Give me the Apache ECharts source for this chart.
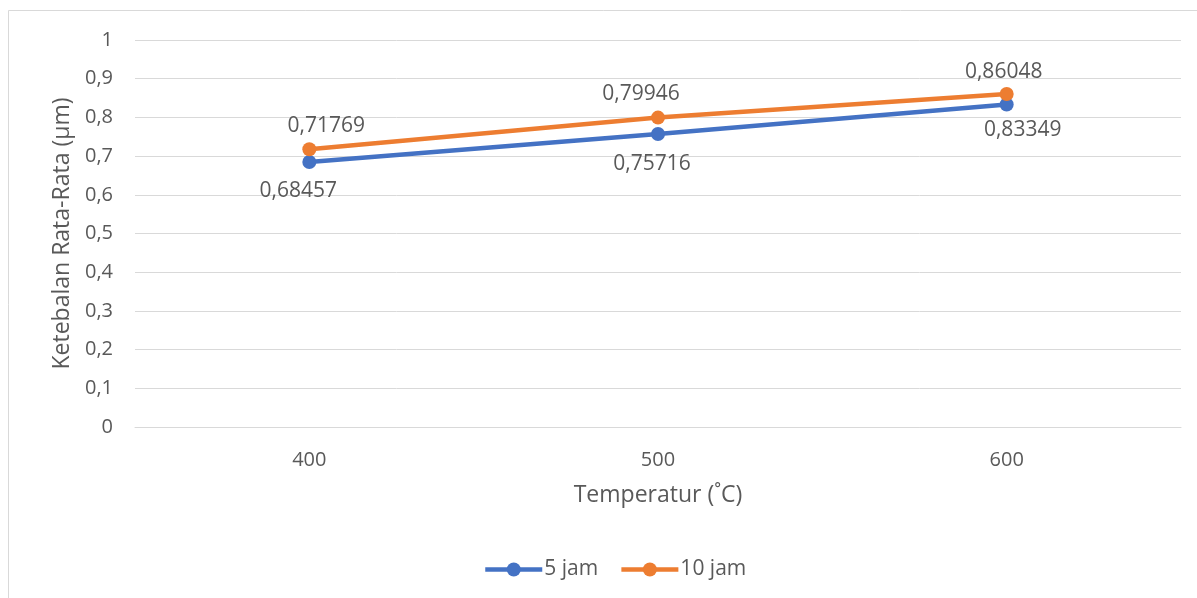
<!DOCTYPE html>
<html>
<head>
<meta charset="utf-8">
<title>Ketebalan Rata-Rata</title>
<script src="https://cdn.jsdelivr.net/npm/echarts@6/dist/echarts.min.js"></script>
<style>
  html, body { margin: 0; padding: 0; background: #fff; }
  #chart { width: 1197px; height: 598px; }
</style>
</head>
<body>
<div id="chart"></div>
<script>
// Temperature categories (°C) and yAxis ticks
const temperatures = ['400', '500', '600'];
const yTicks = [0, 0.1, 0.2, 0.3, 0.4, 0.5, 0.6, 0.7, 0.8, 0.9, 1];

// Average thickness (µm) per holding time
const jam5 = [0.68457, 0.75716, 0.83349];
const jam10 = [0.71769, 0.79946, 0.86048];

// Label offsets from each point's centre (px)
const offsets5 = [[-11, 29], [-6, 30], [16, 26]];
const offsets10 = [[17, -23], [-17, -24], [-3, -22]];

const FONT = '"Open Sans", "Noto Sans", sans-serif';
const TEXT = '#595959';
const fmt = v => String(v).replace('.', ',');

function points(values, offs) {
  return values.map((v, i) => ({
    value: v,
    label: { offset: offs[i] }
  }));
}

const chart = echarts.init(document.getElementById('chart'), null, { renderer: 'canvas' });
chart.setOption({
  backgroundColor: '#ffffff',
  animation: false,
  textStyle: { fontFamily: FONT, color: TEXT },
  graphic: [{
    type: 'rect',
    shape: { x: 8.5, y: 10.5, width: 1200, height: 600 },
    style: { fill: 'none', stroke: '#d9d9d9', lineWidth: 1 },
    silent: true
  }],
  grid: { left: 135, right: 16, top: 40, bottom: 171 },
  legend: {
    top: 554,
    left: 478,
    itemWidth: 57,
    itemHeight: 17.5,
    itemGap: 21,
    lineStyle: { width: 4.5 },
    textStyle: { fontFamily: FONT, fontSize: 21, color: TEXT, padding: [0, 0, 0, -3] },
    data: ['5 jam', '10 jam']
  },
  xAxis: {
    type: 'category',
    data: temperatures,
    boundaryGap: true,
    name: 'Temperatur (˚C)',
    nameLocation: 'middle',
    nameGap: 57,
    nameTextStyle: { fontFamily: FONT, fontSize: 23, color: TEXT },
    axisLine: { lineStyle: { color: '#d9d9d9', width: 1 } },
    axisTick: { show: false },
    axisLabel: { fontFamily: FONT, fontSize: 20, color: TEXT, margin: 23 }
  },
  yAxis: {
    type: 'value',
    min: yTicks[0],
    max: yTicks[yTicks.length - 1],
    interval: 0.1,
    name: 'Ketebalan Rata-Rata (µm)',
    nameLocation: 'middle',
    nameGap: 60,
    nameTextStyle: { fontFamily: FONT, fontSize: 23, color: TEXT },
    axisLine: { show: false },
    axisTick: { show: false },
    splitLine: { lineStyle: { color: '#d9d9d9', width: 1 } },
    axisLabel: { fontFamily: FONT, fontSize: 20, color: TEXT, margin: 22, formatter: v => fmt(Math.round(v * 10) / 10) }
  },
  series: [
    {
      name: '5 jam',
      type: 'line',
      data: points(jam5, offsets5),
      color: '#4472C4',
      symbol: 'circle',
      symbolSize: 14,
      lineStyle: { width: 4.5, color: '#4472C4' },
      itemStyle: { color: '#4472C4' },
      label: {
        show: true, position: 'inside', fontFamily: FONT, fontSize: 21, color: TEXT,
        formatter: p => fmt(p.value)
      },
      z: 2
    },
    {
      name: '10 jam',
      type: 'line',
      data: points(jam10, offsets10),
      color: '#ED7D31',
      symbol: 'circle',
      symbolSize: 14,
      lineStyle: { width: 4.5, color: '#ED7D31' },
      itemStyle: { color: '#ED7D31' },
      label: {
        show: true, position: 'inside', fontFamily: FONT, fontSize: 21, color: TEXT,
        formatter: p => fmt(p.value)
      },
      z: 3
    }
  ]
});
</script>
</body>
</html>
